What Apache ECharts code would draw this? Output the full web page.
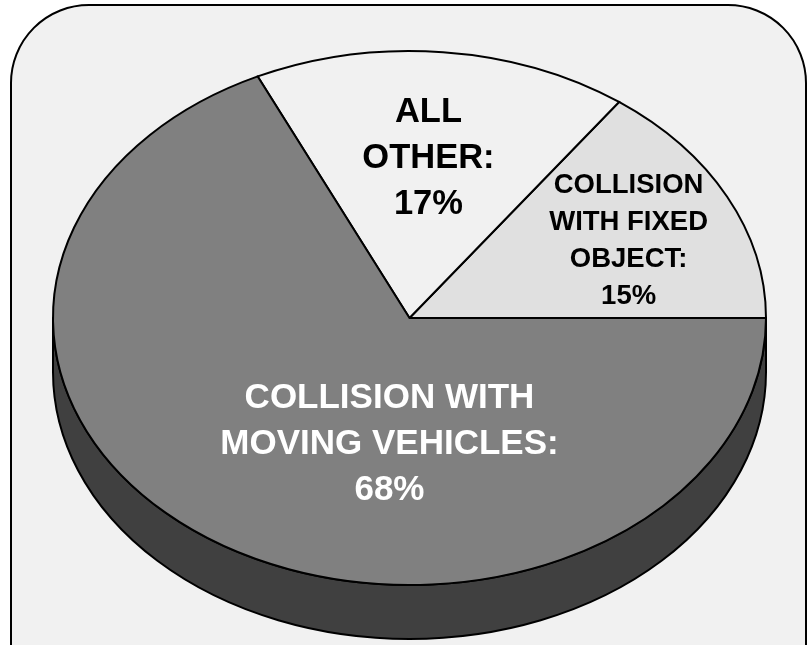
<!DOCTYPE html>
<html><head><meta charset="utf-8">
<script src="https://cdn.jsdelivr.net/npm/echarts@6/dist/echarts.min.js"></script>
<style>html,body{margin:0;padding:0;background:#fff}#c{width:808px;height:645px}</style>
</head><body><div id="c"></div>
<script>
// ---- data ----
const categories = ['COLLISION WITH FIXED OBJECT', 'ALL OTHER', 'COLLISION WITH MOVING VEHICLES'];
const shares = [15, 17, 68];
const labelTexts = ['COLLISION\nWITH FIXED\nOBJECT:', 'ALL\nOTHER:', 'COLLISION WITH\nMOVING VEHICLES:'];

// ---- layout / style ----
const PIE = { cx: 409.5, cy: 318, rx: 356.5, ry: 267, depth: 54 };
const sliceColors = ['#e0e0e0', '#f1f1f1', '#808080'];
const sideColors = ['#707070', '#c8c8c8', '#404040'];
const labelLayout = [
  { angle: 25.15, r: 0.679, size: 27.5, lh: 37, color: '#000000' },
  { angle: 84.9, r: 0.598, size: 34.5, lh: 46, color: '#000000' },
  { angle: 263.2, r: 0.475, size: 35, lh: 46, color: '#ffffff' }
];
const FONT = "'Liberation Sans', Arial, Helvetica, sans-serif";

const total = shares.reduce((a, b) => a + b, 0);
const seriesData = [];
let acc = 0;
shares.forEach((v, i) => { seriesData.push({ name: categories[i], value: [i, v, acc] }); acc += v; });

function pt(deg, dy) {
  const t = deg * Math.PI / 180;
  return [PIE.cx + PIE.rx * Math.cos(t), PIE.cy - PIE.ry * Math.sin(t) + (dy || 0)];
}
function f(p) { return p[0].toFixed(2) + ' ' + p[1].toFixed(2); }

function renderItem(params, api) {
  const i = api.value(0);
  const v = api.value(1);
  const start = api.value(2);
  const a0 = start / total * 360;
  const a1 = (start + v) / total * 360;
  const children = [];
  // side (depth) for the part of the slice in the lower half
  const s = Math.max(a0, 180), e = Math.min(a1, 360);
  if (e > s) {
    const d = PIE.depth;
    const path = 'M ' + f(pt(s)) + ' L ' + f(pt(s, d)) +
      ' A ' + PIE.rx + ' ' + PIE.ry + ' 0 0 0 ' + f(pt(e, d)) +
      ' L ' + f(pt(e)) +
      ' A ' + PIE.rx + ' ' + PIE.ry + ' 0 0 1 ' + f(pt(s)) + ' Z';
    children.push({ type: 'path', z2: 1, shape: { pathData: path },
      style: { fill: sideColors[i], stroke: '#000', lineWidth: 2, lineJoin: 'round' } });
  }
  const large = (a1 - a0) > 180 ? 1 : 0;
  const top = 'M ' + PIE.cx + ' ' + PIE.cy + ' L ' + f(pt(a0)) +
    ' A ' + PIE.rx + ' ' + PIE.ry + ' 0 ' + large + ' 0 ' + f(pt(a1)) + ' Z';
  children.push({ type: 'path', z2: 10, shape: { pathData: top },
    style: { fill: sliceColors[i], stroke: '#000', lineWidth: 2, lineJoin: 'miter' } });
  const L = labelLayout[i];
  const t = L.angle * Math.PI / 180;
  children.push({ type: 'text', z2: 20,
    style: {
      text: labelTexts[i] + '\n' + v + '%',
      x: PIE.cx + PIE.rx * L.r * Math.cos(t),
      y: PIE.cy - PIE.ry * L.r * Math.sin(t),
      align: 'center', verticalAlign: 'middle',
      fontFamily: FONT, fontWeight: 'bold', fontSize: L.size, lineHeight: L.lh,
      fill: L.color
    } });
  return { type: 'group', children: children };
}

const chart = echarts.init(document.getElementById('c'), null, { renderer: 'canvas' });
chart.setOption({
  animation: false,
  backgroundColor: '#ffffff',
  graphic: [{
    type: 'rect', z: -10,
    shape: { x: 11, y: 5, width: 795, height: 720, r: 78 },
    style: { fill: '#f1f1f1', stroke: '#000000', lineWidth: 2 }
  }],
  series: [{
    type: 'custom',
    coordinateSystem: 'none',
    renderItem: renderItem,
    data: seriesData
  }]
});
</script>
</body></html>
